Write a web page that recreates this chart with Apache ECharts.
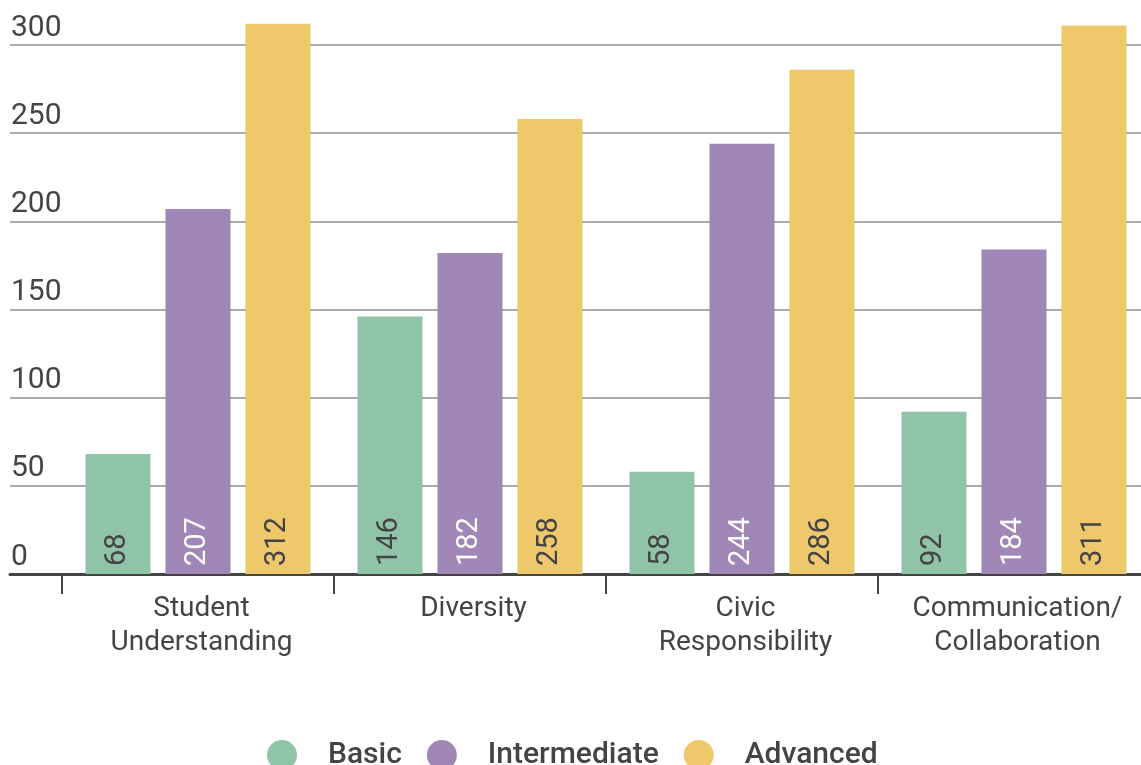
<!DOCTYPE html>
<html><head><meta charset="utf-8">
<script src="https://cdn.jsdelivr.net/npm/echarts@6/dist/echarts.min.js"></script>
<style>html,body{margin:0;padding:0;background:#fff;overflow:hidden}#c{width:1150px;height:765px}</style>
</head><body><div id="c"></div>
<script>
const categories = ['Student\nUnderstanding', 'Diversity', 'Civic\nResponsibility', 'Communication/\nCollaboration'];
const basic = [68, 146, 58, 92];
const intermediate = [207, 182, 244, 184];
const advanced = [312, 258, 286, 311];
const seriesNames = ['Basic', 'Intermediate', 'Advanced'];
const yTicks = [0, 50, 100, 150, 200, 250, 300];

const colors = ['#8fc4a8', '#a087b8', '#efc86b'];
const labelColors = ['#444', '#ffffff', '#444'];
const FONT = 'Roboto';
const chart = echarts.init(document.getElementById('c'), null, {renderer: 'canvas'});

const dataSets = [basic, intermediate, advanced];
const series = dataSets.map((d, i) => ({
  name: seriesNames[i], type: 'bar', xAxisIndex: 1, yAxisIndex: 1, data: d,
  barWidth: 65, barGap: '23%', clip: false,
  itemStyle: {color: colors[i]},
  label: {show: true, position: 'insideBottom', rotate: 90, distance: 8, align: 'left', verticalAlign: 'middle',
    color: labelColors[i], fontFamily: FONT, fontSize: 29},
  emphasis: {disabled: true}
}));

chart.setOption({
  animation: false,
  textStyle: {fontFamily: FONT},
  legend: {
    data: seriesNames, left: 262, top: 735, icon: 'circle', itemWidth: 30, itemHeight: 30, itemGap: 25,
    textStyle: {fontFamily: FONT, fontSize: 30, fontWeight: 500, color: '#444', padding: [0, 0, 0, 26]}
  },
  grid: [
    {left: 10, right: 0, top: 45, bottom: 191},
    {left: 62, right: 0, top: 45, bottom: 191}
  ],
  xAxis: [
    {gridIndex: 0, type: 'value', min: 0, max: 1, axisLabel: {show: false}, axisTick: {show: false}, splitLine: {show: false},
      axisLine: {show: true, lineStyle: {color: '#444', width: 3}}},
    {gridIndex: 1, type: 'category', data: categories, boundaryGap: true,
      axisLine: {show: false},
      axisTick: {show: true, length: 20, lineStyle: {color: '#444', width: 2}},
      axisLabel: {color: '#444', fontFamily: FONT, fontSize: 28, lineHeight: 34, margin: 18, interval: 0,
        padding: [0, 0, 0, 7]}}
  ],
  yAxis: [
    {gridIndex: 0, type: 'value', min: 0, max: 300, interval: 50,
      axisLine: {show: false}, axisTick: {show: false},
      splitLine: {show: true, lineStyle: {color: '#aaaaaa', width: 2}},
      axisLabel: {inside: true, margin: 1, align: 'left', verticalAlign: 'bottom', padding: [0, 0, 2, 0],
        color: '#444', fontFamily: FONT, fontSize: 30,
        formatter: v => yTicks.includes(v) ? String(v) : ''}},
    {gridIndex: 1, type: 'value', min: 0, max: 300, interval: 50, show: false, splitLine: {show: false}}
  ],
  series: series
});
</script></body></html>
